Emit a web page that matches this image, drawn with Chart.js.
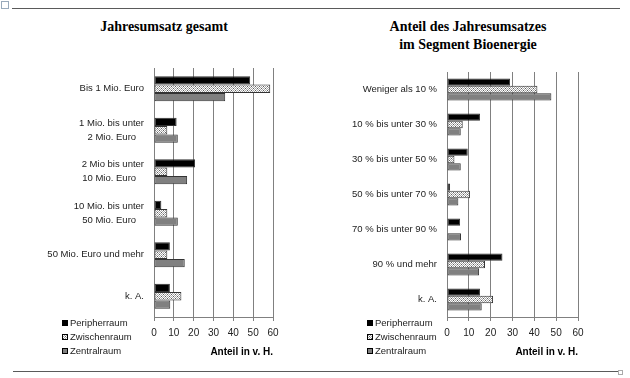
<!DOCTYPE html>
<html lang="de">
<head>
<meta charset="UTF-8">
<title>Jahresumsatz und Anteil Bioenergie</title>
<script src="https://cdn.jsdelivr.net/npm/chart.js"></script>
<style>
    body { margin: 0; width: 630px; height: 378px; position: relative; overflow: hidden; background: #fff; }
    .rule { position: absolute; height: 1px; background: #5a5a5a; }
    .title { position: absolute; font-family: "Liberation Serif", "Times New Roman", serif; font-weight: bold;
             font-size: 14px; line-height: 18px; text-align: center; color: #000; }
    .box { position: absolute; top: 0; height: 378px; }
    .icon { position: absolute; left: 1px; top: 1px; width: 6px; height: 6px; border: 1px solid #9ab; }
    .handle { position: absolute; left: 618px; top: 370px; width: 3px; height: 3px; border: 1px solid #aaa; }
</style>
</head>
<body>
<div class="icon"></div>
<div class="rule" style="left:12px; top:8px; width:608px;"></div>
<div class="rule" style="left:13px; top:371px; width:605px;"></div>
<div class="handle"></div>

<div class="title" style="left:64px; top:18px; width:200px;">Jahresumsatz gesamt</div>
<div class="title" style="left:348px; top:18px; width:240px;">Anteil des Jahresumsatzes<br>im Segment Bioenergie</div>

<div class="box" style="left:0; width:320px;"><canvas id="left" width="320" height="378"></canvas></div>
<div class="box" style="left:320px; width:310px;"><canvas id="right" width="310" height="378"></canvas></div>

<script>
// Daten
const seriesNames = ['Peripherraum', 'Zwischenraum', 'Zentralraum'];
const xTicks = [0, 10, 20, 30, 40, 50, 60];

const umsatzLabels = ['Bis 1 Mio. Euro', ['1 Mio. bis unter', '2 Mio. Euro   '], ['2 Mio bis unter', '10 Mio. Euro   '],
    ['10 Mio. bis unter', '50 Mio. Euro   '], '50 Mio. Euro und mehr', 'k. A.'];
const umsatzPeripher = [48.5, 11.4, 20.7, 3.7, 8, 8];
const umsatzZwischen = [58.6, 6.7, 6.7, 6.7, 6.7, 13.8];
const umsatzZentral = [35.9, 12, 16.7, 12, 15.5, 8.2];

const bioLabels = ['Weniger als 10 %', '10 % bis unter 30 %', '30 % bis unter 50 %', '50 % bis unter 70 %',
    '70 % bis unter 90 %', '90 % und mehr', 'k. A.'];
const bioPeripher = [28.9, 15.1, 9.5, 1.4, 6, 25.4, 15.1];
const bioZwischen = [41.4, 7.2, 3.4, 10.5, 0, 17.4, 21.1];
const bioZentral = [47.8, 6.3, 6.3, 5.2, 6.4, 14.7, 15.9];

const FONT = '"Liberation Sans", Arial, sans-serif';

// Punktraster fuer Zwischenraum
function dotPattern() {
    var c = document.createElement('canvas');
    c.width = 4; c.height = 4;
    var g = c.getContext('2d');
    g.fillStyle = '#ffffff';
    g.fillRect(0, 0, 4, 4);
    g.fillStyle = '#a8a8a8';
    for (var y = 0; y < 4; y++) {
        for (var x = 0; x < 4; x++) {
            if ((x + y) % 2 === 1) g.fillRect(x, y, 1, 1);
        }
    }
    g.fillStyle = '#606060';
    g.fillRect(1, 0, 1, 1);
    g.fillRect(3, 2, 1, 1);
    return g.createPattern(c, 'repeat');
}
const hatch = dotPattern();
const fills = ['#000000', hatch, '#808080'];

// Legende links unten neben der Achse
const sideLegend = {
    id: 'sideLegend',
    afterDraw(chart, args, opts) {
        const ctx = chart.ctx;
        ctx.save();
        ctx.font = '9.5px ' + FONT;
        ctx.textBaseline = 'middle';
        chart.data.datasets.forEach(function(ds, i) {
            const y = Math.round(opts.y + i * 14);
            ctx.fillStyle = ds.backgroundColor;
            ctx.fillRect(opts.x, y - 3, 6, 6);
            ctx.strokeStyle = '#000';
            ctx.lineWidth = 1;
            ctx.strokeRect(opts.x + 0.5, y - 2.5, 5, 5);
            ctx.fillStyle = '#222';
            ctx.fillText(ds.label, opts.x + 8, y + 0.5);
        });
        ctx.restore();
    }
};

function makeChart(id, labels, values, cfg) {
    const ctx = document.getElementById(id).getContext('2d');
    return new Chart(ctx, {
        type: 'bar',
        data: {
            labels: labels,
            datasets: values.map(function(v, i) {
                return {
                    label: seriesNames[i],
                    data: v,
                    backgroundColor: fills[i],
                    borderColor: '#333',
                    borderWidth: 1,
                    borderSkipped: false,
                    categoryPercentage: cfg.barPct,
                    barPercentage: 1
                };
            })
        },
        options: {
            indexAxis: 'y',
            responsive: false,
            animation: false,
            devicePixelRatio: 1,
            layout: { padding: { left: 0, right: cfg.padRight, top: cfg.padTop, bottom: 16 } },
            plugins: {
                legend: { display: false },
                tooltip: { enabled: false },
                sideLegend: { x: cfg.legendX, y: 323 }
            },
            scales: {
                x: {
                    min: 0, max: 60,
                    afterBuildTicks: function(scale) { scale.ticks = xTicks.map(function(v) { return { value: v }; }); },
                    afterFit: function(scale) { scale.height = 45; },
                    grid: { color: '#808080', lineWidth: 1, drawTicks: true, tickLength: 4 },
                    border: { color: '#808080' },
                    ticks: { color: '#222', padding: 6, font: { family: FONT, size: 10 }, maxRotation: 0 },
                    title: { display: true, text: 'Anteil in v. H.', align: 'end', color: '#000',
                             padding: { top: 0, bottom: 4 }, font: { family: FONT, size: 10, weight: 'bold' } }
                },
                y: {
                    afterFit: function(scale) { scale.width = cfg.yWidth; },
                    grid: { display: false, drawTicks: false },
                    border: { display: true, color: '#808080' },
                    ticks: { color: '#222', padding: 10, font: { family: FONT, size: 9.5, lineHeight: 1.45 } }
                }
            }
        },
        plugins: [sideLegend]
    });
}

makeChart('left', umsatzLabels, [umsatzPeripher, umsatzZwischen, umsatzZentral],
    { yWidth: 154, padRight: 47, padTop: 68, barPct: 0.6, legendX: 62 });
makeChart('right', bioLabels, [bioPeripher, bioZwischen, bioZentral],
    { yWidth: 127, padRight: 52, padTop: 72, barPct: 0.63, legendX: 47 });
</script>
</body>
</html>
